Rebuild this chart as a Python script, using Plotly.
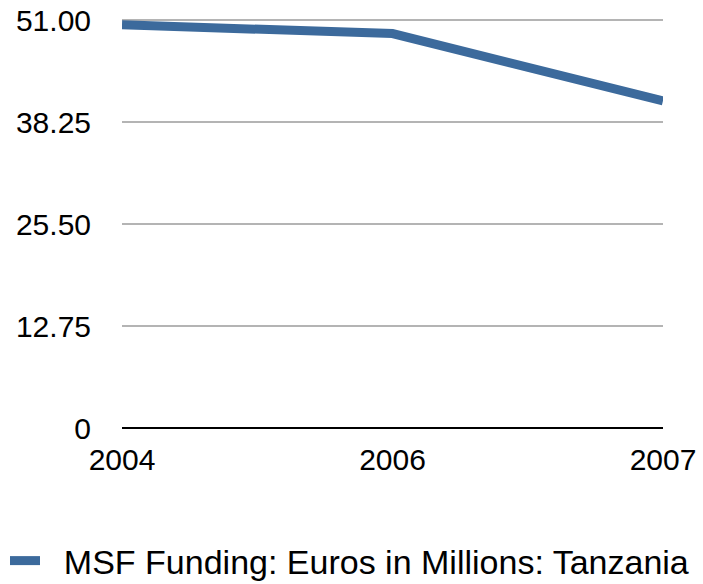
import plotly.graph_objects as go

years = ["2004", "2006", "2007"]
funding = [50.4, 49.3, 40.9]
series_name = "MSF Funding: Euros in Millions: Tanzania"
y_tick_vals = [0, 12.75, 25.5, 38.25, 51]
y_tick_text = ["0", "12.75", "25.50", "38.25", "51.00"]

font = "Liberation Sans, Arial, Helvetica, sans-serif"

fig = go.Figure()
fig.add_trace(go.Scatter(
    x=years, y=funding, mode="lines", name="\u00a0\u00a0" + series_name,
    line=dict(color="#3C6A9C", width=9),
    showlegend=True,
))

fig.update_layout(
    width=703, height=584,
    margin=dict(l=122, r=40, t=18, b=156, autoexpand=False),
    paper_bgcolor="white", plot_bgcolor="white",
    font=dict(family=font, size=30, color="black"),
    showlegend=True,
    legend=dict(orientation="h", x=-0.2163, xanchor="left", y=-0.3244, yanchor="middle",
                font=dict(size=34), itemwidth=30, bgcolor="rgba(0,0,0,0)"),
    xaxis=dict(type="category", range=[0, 2], showgrid=False, zeroline=False,
               ticks="outside", ticklen=5, tickcolor="rgba(0,0,0,0)",
               tickfont=dict(size=30), showline=False, automargin=False),
    yaxis=dict(range=[0, 51.25], tickvals=y_tick_vals, ticktext=y_tick_text,
               showgrid=True, gridcolor="#B4B4B4", gridwidth=2,
               zeroline=True, zerolinecolor="black", zerolinewidth=2,
               ticks="outside", ticklen=24, tickcolor="rgba(0,0,0,0)",
               tickfont=dict(size=30), showline=False, automargin=False,
               ticklabeloverflow="allow"),
)

fig.write_html("out.html", config={"displayModeBar": False},
               post_script="document.body.style.margin='0';")
